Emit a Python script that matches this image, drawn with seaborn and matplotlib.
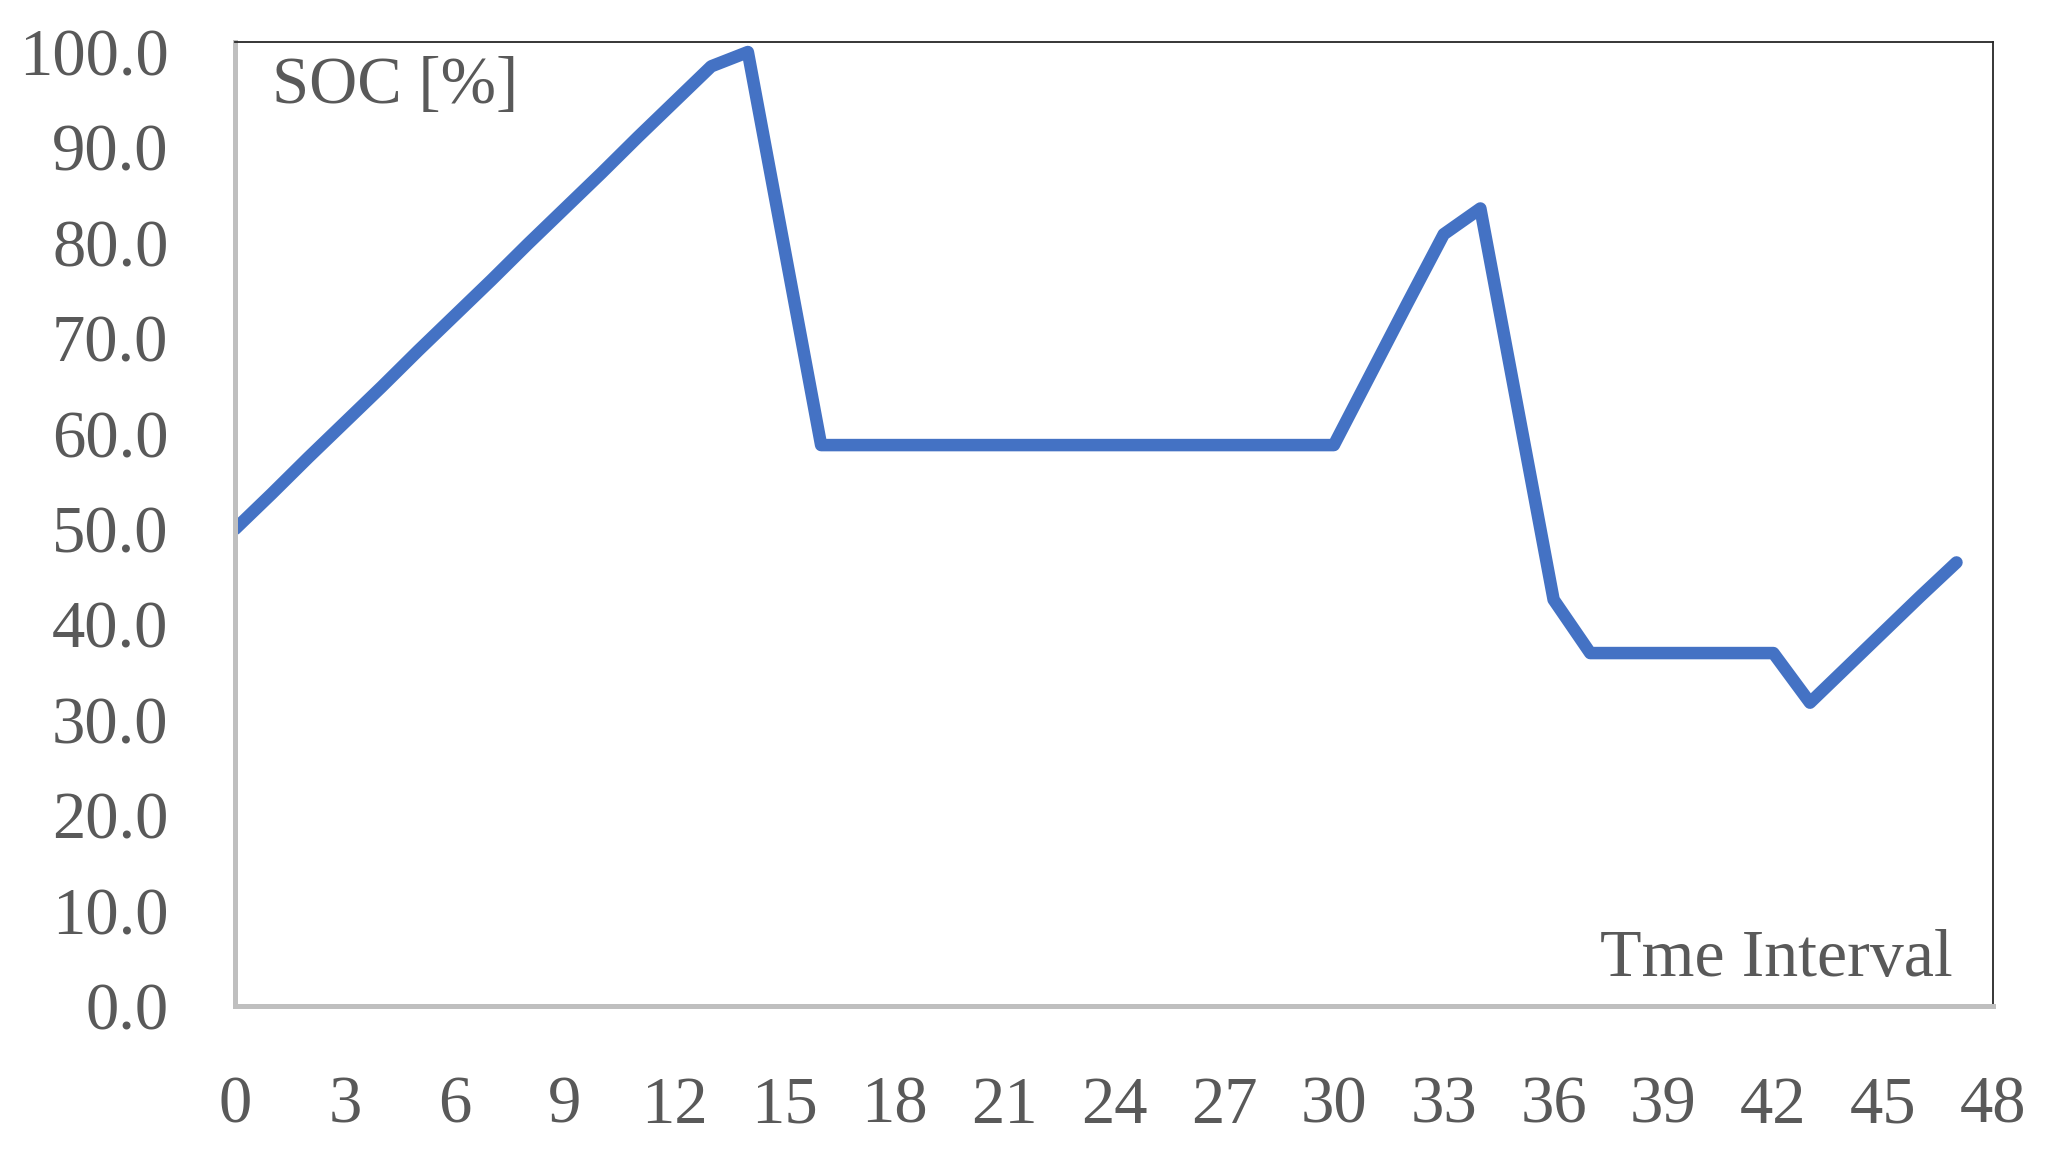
import pandas as pd
import matplotlib.pyplot as plt
import seaborn as sns

# time interval index and state of charge (%)
intervals = list(range(48))
soc = [50.0, 53.7, 57.5, 61.2, 64.9, 68.7, 72.4, 76.1, 79.9, 83.6, 87.3, 91.1, 94.8, 98.5,
       100.0, 79.4, 58.8, 58.8, 58.8, 58.8, 58.8, 58.8, 58.8, 58.8, 58.8, 58.8, 58.8, 58.8,
       58.8, 58.8, 58.8, 66.2, 73.6, 80.9, 83.6, 63.1, 42.6, 37.0, 37.0, 37.0, 37.0, 37.0,
       37.0, 31.8, 35.5, 39.2, 42.9, 46.5]
x_ticks = list(range(0, 49, 3))
y_ticks = [0, 10, 20, 30, 40, 50, 60, 70, 80, 90, 100]

df = pd.DataFrame({"interval": intervals, "soc": soc})

sns.set_style("white")
plt.rcParams["font.family"] = ["Liberation Serif", "DejaVu Serif"]
text_color = "#595959"

fig = plt.figure(figsize=(20.48, 11.54), dpi=100)
ax = fig.add_axes([0.1148, 0.1282, 0.8584, 0.8354])

sns.lineplot(data=df, x="interval", y="soc", ax=ax, color="#4472C4", linewidth=9,
             solid_capstyle="round", solid_joinstyle="round")

ax.set_xlim(0, 48)
ax.set_ylim(0, 101.05)
ax.set_xticks(x_ticks)
ax.set_yticks(y_ticks)
ax.set_yticklabels([f"{v:.1f}" for v in y_ticks])
ax.tick_params(axis="both", length=0, labelsize=48, colors=text_color)
ax.tick_params(axis="x", pad=50)
ax.tick_params(axis="y", pad=48)
ax.set_xlabel("")
ax.set_ylabel("")

for side in ["left", "bottom"]:
    ax.spines[side].set_color("#BFBFBF")
    ax.spines[side].set_linewidth(3.6)
for side in ["top", "right"]:
    ax.spines[side].set_color("#262626")
    ax.spines[side].set_linewidth(1.3)

ax.text(0.021, 0.9367, "SOC [%]", transform=ax.transAxes, fontsize=48,
        color=text_color, ha="left", va="baseline")
ax.text(0.977, 0.031, "Tme Interval", transform=ax.transAxes, fontsize=49,
        color=text_color, ha="right", va="baseline")

plt.savefig("out.png", dpi=100)
